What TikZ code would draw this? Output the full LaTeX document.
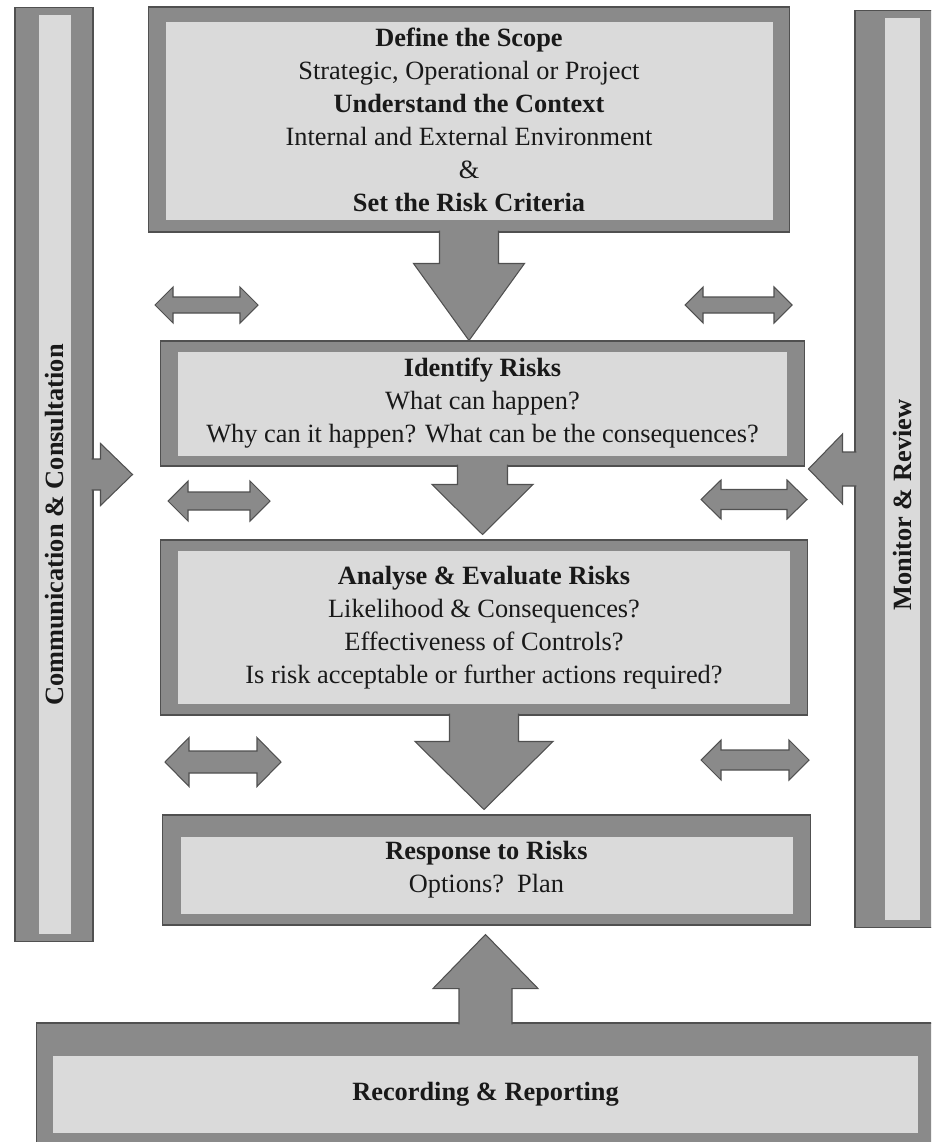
\documentclass[tikz,border=0pt]{standalone}
\usepackage{fontspec}
\setmainfont{Liberation Serif}
\usetikzlibrary{positioning}
\usetikzlibrary{calc}
\definecolor{framegray}{RGB}{138,138,138}
\definecolor{panelgray}{RGB}{218,218,218}
\definecolor{edgegray}{RGB}{80,80,80}
\definecolor{inkgray}{RGB}{25,25,25}
\tikzstyle{bigarrow}=[draw=edgegray,fill=framegray,line width=0.6pt,line join=miter]
\tikzstyle{boxtext}=[text=inkgray,align=center,font=\fontsize{15}{18.8}\selectfont]
\tikzstyle{sidetext}=[text=inkgray,inner sep=0pt,font=\bfseries\fontsize{15}{17}\selectfont]
\tikzset{panel/.style n args={4}{draw=edgegray,fill=framegray,line width=0.6pt,inner sep=0pt,
    path picture={\fill[panelgray] ([shift={({#1*0.02cm},{-#2*0.02cm})}]path picture bounding box.north west)
      rectangle ([shift={({-#3*0.02cm},{#4*0.02cm})}]path picture bounding box.south east);}}}
\tikzset{
  pics/sidearrow/.style args={#1/#2/#3/#4}{code={
    \filldraw[bigarrow] (-2,-#2) -- ({#1-#4},-#2) -- ({#1-#4},-#3) -- (#1,0) -- ({#1-#4},#3) -- ({#1-#4},#2) -- (-2,#2);}},
  pics/twoway/.style args={#1/#2/#3/#4}{code={
    \filldraw[bigarrow] ({-#1/2},0) -- ({-#1/2+#4},-#3) -- ({-#1/2+#4},-#2) -- ({#1/2-#4},-#2) -- ({#1/2-#4},-#3)
      -- ({#1/2},0) -- ({#1/2-#4},#3) -- ({#1/2-#4},#2) -- ({-#1/2+#4},#2) -- ({-#1/2+#4},#3) -- cycle;}}
}

\begin{document}
\begin{tikzpicture}[x=0.02cm,y=-0.02cm]
  \clip (0,0) rectangle (931,1142);
  \fill[white] (0,0) rectangle (931,1142);

  % side columns
  \node[panel={24}{8}{22}{8},minimum width=1.56cm,minimum height=18.7cm] (lcol) at (54,474.5) {};
  \node[panel={30}{8}{25}{8},minimum width=1.8cm,minimum height=18.36cm] (rcol) at (900,469) {};
  \node[sidetext,rotate=90] (commlabel) at (55,525) {Communication \& Consultation};
  \node[sidetext,rotate=90] (monlabel) at (902,505) {Monitor \& Review};

  % process boxes
  \node[panel={18}{15}{17}{12},boxtext,minimum width=12.84cm,minimum height=4.5cm] (scope) at (469,119.5)
    {\textbf{Define the Scope}\\Strategic, Operational or Project\\\textbf{Understand the Context}\\
     Internal and External Environment\\\&\\\textbf{Set the Risk Criteria}};
  \node[panel={18}{11}{18}{10},boxtext,minimum width=12.9cm,minimum height=2.5cm] (ident) at (482.5,403.5)
    {\textbf{Identify Risks}\\What can happen?\\Why can it happen? What can be the consequences?};
  \node[panel={18}{11}{18}{11},boxtext,minimum width=12.96cm,minimum height=3.5cm] (analyse) at (484,627.5)
    {\textbf{Analyse \& Evaluate Risks}\\Likelihood \& Consequences?\\Effectiveness of Controls?\\
     Is risk acceptable or further actions required?};
  \node[panel={19}{22}{18}{11},boxtext,minimum width=12.98cm,minimum height=2.2cm] (respond) at (486.5,870)
    {\textbf{Response to Risks}\\Options?~~Plan};
  \node[panel={17}{33}{17}{33},boxtext,minimum width=17.98cm,minimum height=2.86cm] (record) at (485.5,1094.5)
    {\textbf{Recording \& Reporting}};

  % block arrows between the boxes
  \foreach \a/\b/\d/\sh/\hh/\hl/\gp in {scope.south/ident.north/1/29.5/55.5/77/0,
      ident.south/analyse.north/1/25/50.5/50/5,
      analyse.south/respond.north/1/34.5/69/68/5,
      record.north/respond.south/-1/26.5/52.5/54/9}
  {
    \path (\a |- \b) ++(0,{-\d*\gp}) coordinate (tip) ++(0,{-\d*\hl}) coordinate (back);
    \filldraw[bigarrow] ($(\a)+(-\sh,{-\d*2})$) -- ($(back)+(-\sh,0)$) -- ($(back)+(-\hh,0)$) -- (tip)
      -- ($(back)+(\hh,0)$) -- ($(back)+(\sh,0)$) -- ($(\a)+(\sh,{-\d*2})$);
  }

  % arrows out of the columns
  \pic at (lcol.east) {sidearrow=39/15.5/31/32};
  \pic[rotate=180] at (rcol.west) {sidearrow=46/17/35/34};

  % two-way arrows
  \foreach \ax/\ay/\al/\as/\ah/\ak in {206.5/305/103/8/18/18, 738.5/305/107/8/18/18,
      219/501/102/9/20/20, 754/499.5/106/10/19.5/20,
      223/762/116/11/24.5/24, 755/760/108/10/20/20}
    \pic at (\ax,\ay) {twoway=\al/\as/\ah/\ak};

\end{tikzpicture}
\end{document}
